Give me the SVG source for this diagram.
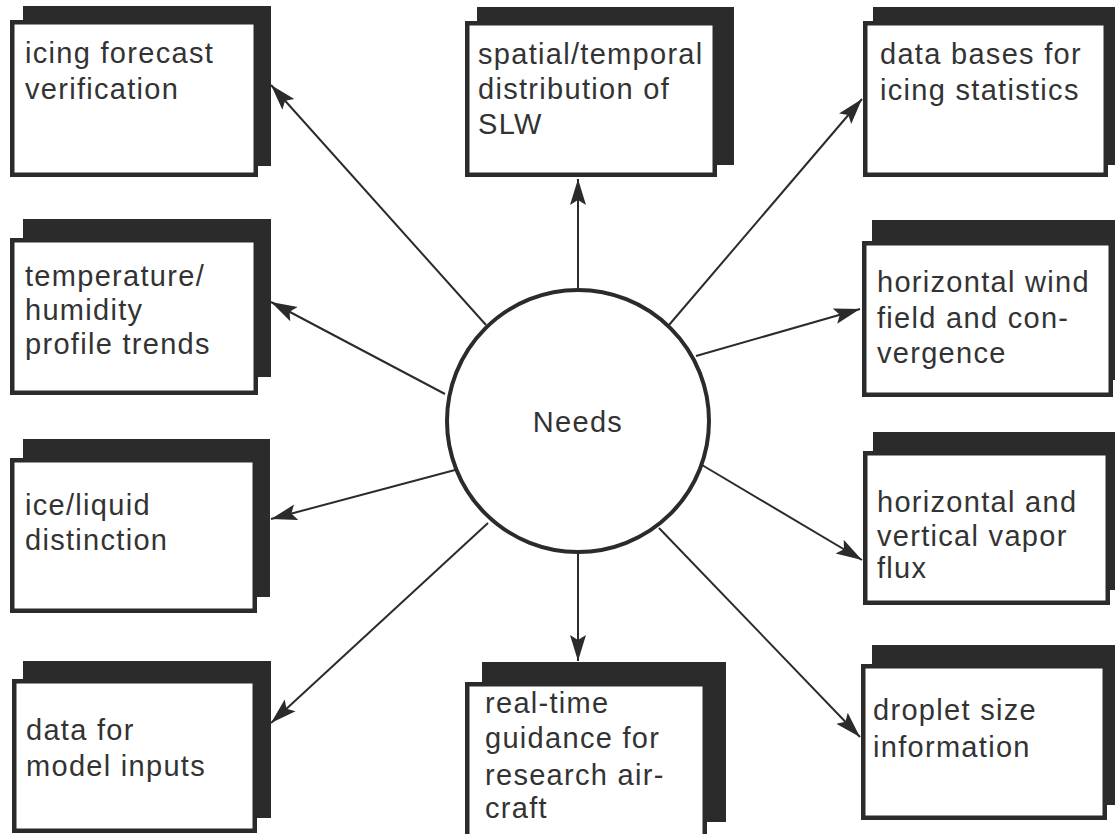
<svg xmlns="http://www.w3.org/2000/svg" width="1115" height="834" viewBox="0 0 1115 834">
<style>
.shadow{fill:#2b2b2b;}
.box{fill:#ffffff;stroke:#2b2b2b;stroke-width:4.5;}
.lbl{font-family:"Liberation Sans",Arial,sans-serif;font-size:29px;letter-spacing:1.3px;fill:#333333;}
.conn{stroke:#2b2b2b;stroke-width:2;fill:none;marker-end:url(#ah);}
</style>
<defs>
<marker id="ah" markerUnits="userSpaceOnUse" markerWidth="28" markerHeight="20" refX="26" refY="9" orient="auto">
<path d="M0,1 L26,9 L0,17 L5,9 z" fill="#2b2b2b"/>
</marker>
</defs>
<rect width="1115" height="834" fill="#ffffff"/>
<g id="connectors">
<line class="conn" x1="486" y1="325" x2="271" y2="85"/>
<line class="conn" x1="578" y1="290" x2="578" y2="179"/>
<line class="conn" x1="669" y1="325" x2="862" y2="99"/>
<line class="conn" x1="445" y1="394" x2="271" y2="302"/>
<line class="conn" x1="696" y1="356" x2="860" y2="309"/>
<line class="conn" x1="455" y1="470" x2="271" y2="519"/>
<line class="conn" x1="702" y1="465" x2="862" y2="560"/>
<line class="conn" x1="488" y1="523" x2="271" y2="723"/>
<line class="conn" x1="578" y1="554" x2="578" y2="661"/>
<line class="conn" x1="659" y1="528" x2="860" y2="737"/>
</g>
<g id="needs">
<circle cx="578" cy="421" r="131" fill="#ffffff" stroke="#2b2b2b" stroke-width="4"/>
<text class="lbl" x="578" y="432" text-anchor="middle">Needs</text>
</g>
<g id="n1">
<rect class="shadow" x="23" y="6" width="248" height="160"/>
<rect class="box" x="12.25" y="22.25" width="243.5" height="152.5"/>
<text class="lbl" x="25" y="63">icing forecast</text>
<text class="lbl" x="25" y="99">verification</text>
</g>
<g id="n2">
<rect class="shadow" x="477" y="7" width="257" height="158"/>
<rect class="box" x="467.25" y="23.25" width="247.5" height="151.5"/>
<text class="lbl" x="478" y="64">spatial/temporal</text>
<text class="lbl" x="478" y="99">distribution of</text>
<text class="lbl" x="478" y="134">SLW</text>
</g>
<g id="n3">
<rect class="shadow" x="873" y="7" width="250" height="158"/>
<rect class="box" x="865.25" y="23.25" width="240.5" height="151.5"/>
<text class="lbl" x="880" y="64">data bases for</text>
<text class="lbl" x="880" y="100">icing statistics</text>
</g>
<g id="n4">
<rect class="shadow" x="23" y="219" width="248" height="158"/>
<rect class="box" x="12.25" y="240.25" width="243.5" height="152.5"/>
<text class="lbl" x="25" y="286">temperature/</text>
<text class="lbl" x="25" y="320">humidity</text>
<text class="lbl" x="25" y="354">profile trends</text>
</g>
<g id="n5">
<rect class="shadow" x="872" y="220" width="250" height="160"/>
<rect class="box" x="864.25" y="243.25" width="246.5" height="151.5"/>
<text class="lbl" x="877" y="292">horizontal wind</text>
<text class="lbl" x="877" y="328">field and con-</text>
<text class="lbl" x="877" y="363">vergence</text>
</g>
<g id="n6">
<rect class="shadow" x="23" y="439" width="247" height="158"/>
<rect class="box" x="12.25" y="460.25" width="242.5" height="150.5"/>
<text class="lbl" x="25" y="515">ice/liquid</text>
<text class="lbl" x="25" y="550">distinction</text>
</g>
<g id="n7">
<rect class="shadow" x="873" y="432" width="250" height="158"/>
<rect class="box" x="865.25" y="453.25" width="242.5" height="149.5"/>
<text class="lbl" x="877" y="512">horizontal and</text>
<text class="lbl" x="877" y="546">vertical vapor</text>
<text class="lbl" x="877" y="578">flux</text>
</g>
<g id="n8">
<rect class="shadow" x="23" y="661" width="248" height="157"/>
<rect class="box" x="14.25" y="681.25" width="240.5" height="149.5"/>
<text class="lbl" x="26" y="740">data for</text>
<text class="lbl" x="26" y="776">model inputs</text>
</g>
<g id="n9">
<rect class="shadow" x="482" y="662" width="244" height="160"/>
<rect class="box" x="467.25" y="684.25" width="237.5" height="160"/>
<text class="lbl" x="485" y="713">real-time</text>
<text class="lbl" x="485" y="748">guidance for</text>
<text class="lbl" x="485" y="785">research air-</text>
<text class="lbl" x="485" y="818">craft</text>
</g>
<g id="n10">
<rect class="shadow" x="872" y="645" width="250" height="160"/>
<rect class="box" x="863.25" y="666.25" width="241.5" height="151.5"/>
<text class="lbl" x="873" y="720">droplet size</text>
<text class="lbl" x="873" y="757">information</text>
</g>
</svg>
